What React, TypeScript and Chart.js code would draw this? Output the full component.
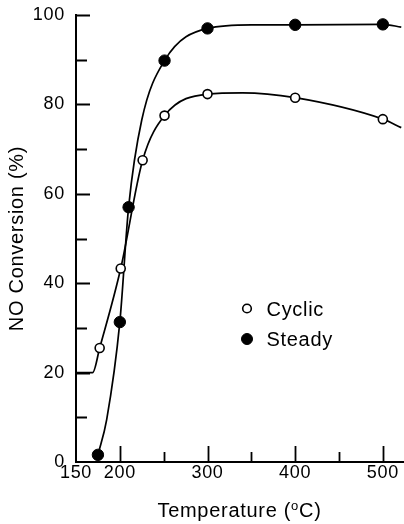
import React, { useEffect, useRef } from "react";
import { Chart, registerables } from "chart.js";

Chart.register(...registerables);

// Measured data points
const cyclicTemps = [177, 201, 226, 251, 300, 400, 500];
const cyclicValues = [25.5, 43.3, 67.5, 77.5, 82.3, 81.5, 76.7];
const steadyTemps = [175, 200, 210, 251, 300, 400, 500];
const steadyValues = [1.6, 31.3, 57, 89.8, 97, 97.8, 97.9];

// Fitted curves
const cyclicCurveTemps = [150, 169, 177, 201, 226, 251, 300, 340, 400, 500, 521];
const cyclicCurveValues = [20, 20, 25.5, 43.3, 67.5, 77.5, 82.3, 82.6, 81.5, 76.7, 74.8];
const steadyCurveTemps = [175, 185, 200, 210, 225, 251, 300, 350, 400, 500, 521];
const steadyCurveValues = [1.6, 9.5, 31.3, 57, 76.5, 89.8, 97, 97.8, 97.8, 97.9, 97.3];

// Axes
const xMin = 150;
const xMax = 523;
const xTickValues = [150, 200, 250, 300, 350, 400, 450, 500];
const xLabelValues = [150, 200, 300, 400, 500];
const yTickValues = [0, 10, 20, 30, 40, 50, 60, 70, 80, 90, 100];
const yLabelValues = [0, 20, 40, 60, 80, 100];

const seriesNames = ["Cyclic", "Steady"];
const yTitle = "NO Conversion (%)";
const xTitleParts = ["Temperature (", "o", "C)"];

const FONT = "'Liberation Sans', Arial, Helvetica, sans-serif";

const toXY = (xs: number[], ys: number[]) => xs.map((x, i) => ({ x, y: ys[i] }));

const decorPlugin = {
  id: "decor",
  beforeDraw(chart: any) {
    chart.ctx.letterSpacing = "0.7px";
  },
  afterDraw(chart: any) {
    const { ctx, chartArea, scales } = chart;
    const xs = scales.x;
    const ys = scales.y;
    ctx.save();
    ctx.strokeStyle = "#000";
    ctx.lineWidth = 1.8;
    ctx.beginPath();
    xTickValues.forEach((v) => {
      if (v === xTickValues[0]) return;
      const px = Math.round(xs.getPixelForValue(v)) + 0.5;
      const len = v % 100 === 0 ? 16 : 10;
      ctx.moveTo(px, chartArea.bottom);
      ctx.lineTo(px, chartArea.bottom - len);
    });
    yTickValues.forEach((v) => {
      if (v === 0) return;
      const py = Math.round(ys.getPixelForValue(v)) + 0.5;
      const len = v % 20 === 0 ? 14 : 11;
      ctx.moveTo(chartArea.left, py);
      ctx.lineTo(chartArea.left + len, py);
    });
    ctx.stroke();

    // x title with superscript o
    ctx.fillStyle = "#000";
    ctx.textBaseline = "alphabetic";
    ctx.textAlign = "left";
    const big = `20px ${FONT}`;
    const small = `13px ${FONT}`;
    ctx.font = big;
    const w0 = ctx.measureText(xTitleParts[0]).width;
    const w2 = ctx.measureText(xTitleParts[2]).width;
    ctx.font = small;
    const w1 = ctx.measureText(xTitleParts[1]).width;
    const total = w0 + w1 + w2;
    let cx = (chartArea.left + chartArea.right) / 2 - total / 2;
    const base = 517;
    ctx.font = big;
    ctx.fillText(xTitleParts[0], cx, base);
    cx += w0;
    ctx.font = small;
    ctx.fillText(xTitleParts[1], cx, base - 7);
    cx += w1;
    ctx.font = big;
    ctx.fillText(xTitleParts[2], cx, base);

    // legend
    const legendItems = [
      { ds: chart.data.datasets[2], y: 308.5, r: 4.3 },
      { ds: chart.data.datasets[3], y: 339, r: 5.5 },
    ];
    legendItems.forEach((item, i) => {
      const mx = 247;
      ctx.beginPath();
      ctx.arc(mx, item.y, item.r, 0, Math.PI * 2);
      ctx.fillStyle = item.ds.pointBackgroundColor;
      ctx.fill();
      ctx.lineWidth = item.ds.pointBorderWidth;
      ctx.strokeStyle = item.ds.pointBorderColor;
      ctx.stroke();
      ctx.fillStyle = "#000";
      ctx.font = big;
      ctx.textBaseline = "alphabetic";
      ctx.fillText(seriesNames[i], 266.5, item.y + 7.2);
    });
    ctx.restore();
  },
};

export default function App() {
  const canvasRef = useRef<HTMLCanvasElement | null>(null);

  useEffect(() => {
    if (!canvasRef.current) return;
    const chart = new Chart(canvasRef.current, {
      type: "scatter",
      data: {
        datasets: [
          {
            label: "Cyclic fit",
            data: toXY(cyclicCurveTemps, cyclicCurveValues),
            showLine: true,
            borderColor: "#000",
            borderWidth: 1.7,
            pointRadius: 0,
            cubicInterpolationMode: "monotone",
            order: 2,
          },
          {
            label: "Steady fit",
            data: toXY(steadyCurveTemps, steadyCurveValues),
            showLine: true,
            borderColor: "#000",
            borderWidth: 1.7,
            pointRadius: 0,
            cubicInterpolationMode: "monotone",
            order: 2,
          },
          {
            label: seriesNames[0],
            data: toXY(cyclicTemps, cyclicValues),
            pointRadius: 4.5,
            pointBackgroundColor: "#fff",
            pointBorderColor: "#000",
            pointBorderWidth: 1.6,
            order: 1,
          },
          {
            label: seriesNames[1],
            data: toXY(steadyTemps, steadyValues),
            pointRadius: 5.7,
            pointBackgroundColor: "#000",
            pointBorderColor: "#000",
            pointBorderWidth: 1,
            order: 0,
          },
        ],
      },
      options: {
        animation: false,
        responsive: false,
        devicePixelRatio: 1,
        layout: { autoPadding: false, padding: { top: 15, right: 1, left: 0, bottom: 0 } },
        plugins: {
          legend: { display: false },
          tooltip: { enabled: false },
        },
        scales: {
          x: {
            type: "linear",
            min: xMin,
            max: xMax,
            afterBuildTicks: (scale: any) => {
              // trailing unlabeled bound tick keeps the label padding from shrinking the axis
              scale.ticks = [...xTickValues, xMax].map((v) => ({ value: v }));
            },
            afterFit: (scale: any) => {
              scale.height = 62;
              scale.paddingLeft = 0;
              scale.paddingRight = 0;
            },
            grid: { display: false, drawTicks: false },
            border: { display: true, color: "#000", width: 2 },
            ticks: {
              padding: 0,
              color: "#000",
              font: { family: FONT, size: 18 },
              maxRotation: 0,
              autoSkip: false,
              callback: (v: any) => (xLabelValues.includes(Number(v)) ? String(v) : ""),
            },
          },
          y: {
            type: "linear",
            min: 0,
            max: 100,
            afterBuildTicks: (scale: any) => {
              scale.ticks = yTickValues.map((v) => ({ value: v }));
            },
            afterFit: (scale: any) => {
              scale.width = 76;
              scale.paddingTop = 0;
              scale.paddingBottom = 0;
            },
            grid: { display: false, drawTicks: false },
            border: { display: true, color: "#000", width: 2 },
            title: {
              display: true,
              text: yTitle,
              color: "#000",
              font: { family: FONT, size: 20 },
              padding: { top: 5.5, bottom: 0 },
            },
            ticks: {
              padding: 11,
              color: "#000",
              font: { family: FONT, size: 18 },
              autoSkip: false,
              callback: (v: any) => (yLabelValues.includes(Number(v)) ? String(v) : ""),
            },
          },
        },
      },
      plugins: [decorPlugin],
    } as any);
    return () => chart.destroy();
  }, []);

  return (
    <div style={{ position: "absolute", left: 0, top: 0, width: 404, height: 524, background: "#fff" }}>
      <canvas ref={canvasRef} width={404} height={524} style={{ width: 404, height: 524 }} />
    </div>
  );
}
